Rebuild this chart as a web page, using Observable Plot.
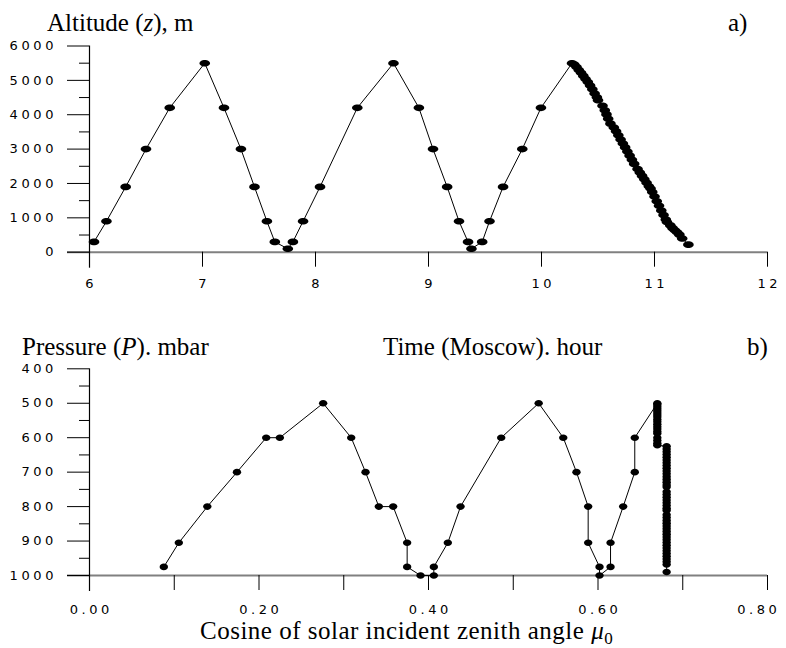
<!DOCTYPE html>
<html>
<head>
<meta charset="utf-8">
<script src="https://cdn.jsdelivr.net/npm/d3@7"></script>
<script src="https://cdn.jsdelivr.net/npm/@observablehq/plot@0.6"></script>
<style>
  html, body { margin: 0; padding: 0; background: #fff; }
  #wrap { position: relative; width: 786px; height: 648px; overflow: hidden; background: #fff; }
  #wrap > svg, #wrap > div { position: absolute; left: 0; }
  #wrap svg.chart text { font-family: "DejaVu Sans", sans-serif !important; font-size: 13px !important; letter-spacing: 3.6px; fill: #000; }
  .ttl { font-family: "Liberation Serif", "Times New Roman", serif; font-size: 25px; fill: #000; }
</style>
</head>
<body>
<div id="wrap"></div>
<script>
// ---------- Panel a) : altitude vs Moscow time ----------
const hours = [6.04, 6.15, 6.32, 6.50, 6.71, 7.02, 7.19, 7.34, 7.46, 7.57, 7.64, 7.755, 7.80, 7.89, 8.04, 8.37, 8.69,
  8.915, 9.04, 9.165, 9.27, 9.35, 9.38, 9.475, 9.54, 9.66, 9.83, 9.995, 10.27,
  10.29, 10.31, 10.33, 10.35, 10.37, 10.39, 10.41, 10.43, 10.45, 10.47, 10.49, 10.50,
  10.54, 10.56, 10.575, 10.59, 10.61,
  10.64, 10.66, 10.68, 10.70, 10.72, 10.74, 10.76, 10.78, 10.80, 10.82,
  10.85, 10.87, 10.89, 10.91, 10.93, 10.95, 10.965,
  10.98, 11.00, 11.02, 11.04, 11.06, 11.08, 11.10, 11.11,
  11.14, 11.16, 11.18, 11.20, 11.22, 11.245, 11.30];
const altitudes = [300, 900, 1900, 3000, 4200, 5500, 4200, 3000, 1900, 900, 300, 100, 300, 900, 1900, 4200, 5500,
  4200, 3000, 1900, 900, 300, 100, 300, 900, 1900, 3000, 4200, 5500,
  5460, 5390, 5300, 5220, 5130, 5040, 4950, 4850, 4740, 4620, 4510, 4420,
  4260, 4130, 4010, 3880, 3740,
  3630, 3520, 3400, 3280, 3160, 3050, 2930, 2810, 2690, 2570,
  2420, 2320, 2220, 2120, 2020, 1920, 1850,
  1750, 1620, 1480, 1350, 1210, 1080, 950, 880,
  780, 700, 640, 580, 510, 400, 220];
const altMajorTicks = [0, 1000, 2000, 3000, 4000, 5000, 6000];
const altMinorTicks = [500, 1500, 2500, 3500, 4500, 5500];
const hourTicks = [6, 7, 8, 9, 10, 11, 12];

// ---------- Panel b) : pressure vs cosine of solar zenith angle ----------
const mu = [0.0877, 0.1054, 0.139, 0.174, 0.2085, 0.2246, 0.2757, 0.3088, 0.3257, 0.3414, 0.3583,
  0.3748, 0.3748, 0.3906, 0.4063, 0.4063, 0.4228, 0.4378, 0.4858, 0.530, 0.559, 0.5746, 0.5884, 0.5884,
  0.6018, 0.6018, 0.6148, 0.6148, 0.6297, 0.6434, 0.6434,
  0.670, 0.670, 0.670, 0.670, 0.670, 0.670, 0.670, 0.670, 0.670, 0.670, 0.670, 0.670, 0.670, 0.670, 0.670,
  0.670, 0.670, 0.670, 0.670,
  0.681, 0.681, 0.681, 0.681, 0.681, 0.681, 0.681, 0.681, 0.681, 0.681, 0.681, 0.681, 0.681, 0.681, 0.681, 0.681,
  0.681, 0.681, 0.681, 0.681, 0.681, 0.681, 0.681, 0.681,
  0.681, 0.681, 0.681, 0.681, 0.681, 0.681, 0.681, 0.681, 0.681, 0.681, 0.681, 0.681, 0.681, 0.681, 0.681, 0.681, 0.681, 0.681, 0.681,
  0.681];
const pressures = [975, 905, 800, 700, 600, 600, 500, 600, 700, 800, 800,
  905, 975, 1000, 1000, 975, 905, 800, 600, 500, 600, 700, 800, 905,
  975, 1000, 975, 905, 800, 700, 600,
  500, 504, 510, 516, 522, 528, 534, 540, 547, 554, 561, 568, 575, 582, 588,
  600, 608, 616, 622,
  625, 633, 641, 649, 657, 665, 673, 681, 689, 697, 705, 713, 721, 729, 737, 743,
  757, 765, 773, 781, 789, 797, 805, 811,
  824, 832, 840, 848, 856, 864, 872, 880, 888, 896, 904, 912, 920, 928, 936, 944, 952, 960, 968,
  990];
const presMajorTicks = [400, 500, 600, 700, 800, 900, 1000];
const presMinorTicks = [450, 550, 650, 750, 850, 950];
const muMajorTicks = [0, 0.2, 0.4, 0.6, 0.8];
const muMinorTicks = [0.1, 0.3, 0.5, 0.7];

// elliptical marker symbol
function ellipseSymbol(rx, ry) {
  const k = 0.5523;
  return {
    draw(ctx) {
      ctx.moveTo(rx, 0);
      ctx.bezierCurveTo(rx, ry * k, rx * k, ry, 0, ry);
      ctx.bezierCurveTo(-rx * k, ry, -rx, ry * k, -rx, 0);
      ctx.bezierCurveTo(-rx, -ry * k, -rx * k, -ry, 0, -ry);
      ctx.bezierCurveTo(rx * k, -ry, rx, -ry * k, rx, 0);
      ctx.closePath();
    }
  };
}

const FONT = "'DejaVu Sans', sans-serif";
const plotStyle = {fontFamily: FONT, fontSize: "13px", color: "#000", background: "transparent", overflow: "visible"};
const txt = {fontFamily: FONT, fontSize: 13, label: null};
const intFmt = d => String(d);
const blank = () => "";
const muFmt = d3.format(".2f");
const muLast = muMajorTicks[muMajorTicks.length - 1];

const topData = hours.map((h, i) => ({hour: h, alt: altitudes[i]}));
const topPlot = Plot.plot({
  width: 786, height: 300,
  marginLeft: 89, marginRight: 19, marginTop: 45.5, marginBottom: 48.3,
  x: {domain: [6, 12], label: null},
  y: {domain: [0, 6000], label: null},
  style: plotStyle,
  marks: [
    Plot.ruleY([0], {stroke: "#808080", strokeWidth: 2, insetLeft: -22}),
    Plot.ruleX([6], {stroke: "#000", strokeWidth: 1.2, insetBottom: -16}),
    Plot.axisY({...txt, ticks: altMajorTicks, tickSize: 22, tickPadding: 10.5, tickFormat: intFmt}),
    Plot.axisY({...txt, ticks: altMinorTicks, tickSize: 10, tickFormat: blank}),
    Plot.axisX({...txt, ticks: hourTicks, tickSize: 15, tickFormat: blank}),
    Plot.axisX({...txt, ticks: hourTicks, tickSize: 0, tickPadding: 27, dx: 1.8, tickFormat: intFmt}),
    Plot.line(topData, {x: "hour", y: "alt", stroke: "#000", strokeWidth: 1}),
    Plot.dot(topData, {x: "hour", y: "alt", symbol: ellipseSymbol(5.3, 3.3), fill: "#000", stroke: "none"})
  ]
});
topPlot.classList.add("chart");
topPlot.style.top = "0px";

const botData = mu.map((m, i) => ({mu: m, p: pressures[i]}));
const botPlot = Plot.plot({
  width: 786, height: 300,
  marginLeft: 89, marginRight: 19, marginTop: 48.3, marginBottom: 45,
  x: {domain: [0, 0.8], label: null},
  y: {domain: [400, 1000], reverse: true, label: null},
  style: plotStyle,
  marks: [
    Plot.ruleY([1000], {stroke: "#808080", strokeWidth: 2, insetLeft: -22}),
    Plot.ruleX([0], {stroke: "#000", strokeWidth: 1.2, insetBottom: -16}),
    Plot.axisY({...txt, ticks: presMajorTicks, tickSize: 22, tickPadding: 10.5, tickFormat: intFmt}),
    Plot.axisY({...txt, ticks: presMinorTicks, tickSize: 10, tickFormat: blank}),
    Plot.axisX({...txt, ticks: [...muMajorTicks, ...muMinorTicks], tickSize: 15, tickFormat: blank}),
    Plot.axisX({...txt, ticks: muMajorTicks.filter(d => d < muLast), tickSize: 0, tickPadding: 29, dx: 1.8, tickFormat: muFmt}),
    Plot.axisX({...txt, ticks: [muLast], tickSize: 0, tickPadding: 29, textAnchor: "end", dx: 13, tickFormat: muFmt}),
    Plot.line(botData, {x: "mu", y: "p", stroke: "#000", strokeWidth: 1}),
    Plot.dot(botData, {x: "mu", y: "p", symbol: ellipseSymbol(4.2, 3.3), fill: "#000", stroke: "none"})
  ]
});
botPlot.classList.add("chart");
botPlot.style.top = "320px";

const wrap = document.getElementById("wrap");
wrap.appendChild(topPlot);
wrap.appendChild(botPlot);

// text labels overlay
const NS = "http://www.w3.org/2000/svg";
const overlay = document.createElementNS(NS, "svg");
overlay.setAttribute("width", 786);
overlay.setAttribute("height", 648);
overlay.style.top = "0px";
overlay.style.pointerEvents = "none";
overlay.innerHTML = `
  <text class="ttl" x="47" y="30.5">Altitude (<tspan font-style="italic">z</tspan>), m</text>
  <text class="ttl" x="728" y="30.5">a)</text>
  <text class="ttl" x="22" y="355">Pressure (<tspan font-style="italic">P</tspan>). mbar</text>
  <text class="ttl" x="383" y="355">Time (Moscow). hour</text>
  <text class="ttl" x="747" y="355">b)</text>
  <text class="ttl" x="200" y="639" style="letter-spacing:0.5px">Cosine of solar incident zenith angle <tspan font-style="italic">μ</tspan><tspan font-size="17px" dy="5">0</tspan></text>
`;
wrap.appendChild(overlay);
</script>
</body>
</html>
